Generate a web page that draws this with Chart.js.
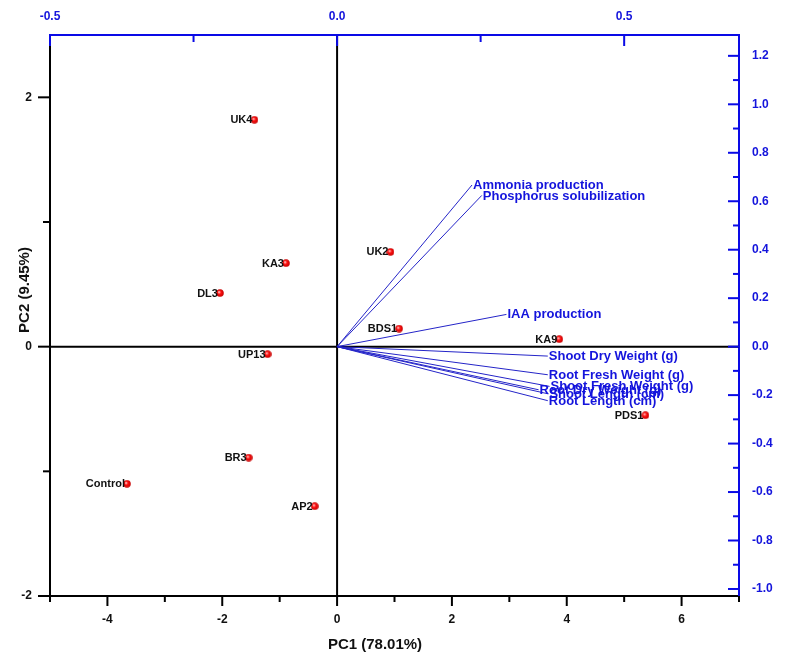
<!DOCTYPE html>
<html>
<head>
<meta charset="utf-8">
<script src="https://cdn.jsdelivr.net/npm/chart.js@4/dist/chart.umd.min.js"></script>
<style>
  body { margin: 0; background: #fff; }
  canvas { display: block; }
</style>
</head>
<body>
<canvas id="pca" width="789" height="665"></canvas>
<script>
// Scores (bottom / left axes)
const strains = ['UK4', 'KA3', 'DL3', 'UK2', 'BDS1', 'UP13', 'BR3', 'Control', 'AP2', 'KA9', 'PDS1']
const pc1 = [-1.44, -0.89, -2.04, 0.93, 1.08, -1.21, -1.54, -3.66, -0.39, 3.87, 5.37]
const pc2 = [1.82, 0.67, 0.43, 0.76, 0.145, -0.06, -0.89, -1.10, -1.28, 0.06, -0.55]

// Loadings (top / right axes)
const traits = ['Ammonia production', 'Phosphorus solubilization', 'IAA production',
  'Shoot Dry Weight (g)', 'Root Fresh Weight (g)', 'Shoot Fresh Weight (g)',
  'Root Dry Weight (g)', 'Shoot Length (cm)', 'Root Length (cm)']
const load1 = [0.235, 0.252, 0.295, 0.367, 0.367, 0.370, 0.351, 0.368, 0.367]
const load2 = [0.667, 0.624, 0.133, -0.039, -0.116, -0.164, -0.178, -0.195, -0.223]

// Tick labels
const xTicks = [-4, -2, 0, 2, 4, 6]
const xMinor = [-5, -3, -1, 1, 3, 5, 7]
const yTicks = [-2, 0, 2]
const yMinor = [-1, 1]
const x2Ticks = [-0.5, 0, 0.5]
const x2Minor = [-0.25, 0.25]
const y2Ticks = [-1.0, -0.8, -0.6, -0.4, -0.2, 0.0, 0.2, 0.4, 0.6, 0.8, 1.0, 1.2]
const y2Minor = [-0.9, -0.7, -0.5, -0.3, -0.1, 0.1, 0.3, 0.5, 0.7, 0.9, 1.1]

const BLUE = '#0a0ae6'
const BLUE_TXT = '#1414dc'
const FONT = "'Liberation Sans', Arial, sans-serif"
Chart.defaults.font.family = FONT

// red ball marker
const dot = document.createElement('canvas')
dot.width = 8; dot.height = 8
{
  const g = dot.getContext('2d')
  const grad = g.createRadialGradient(3, 3, 0.5, 4, 4, 4)
  grad.addColorStop(0, '#ffb0b0')
  grad.addColorStop(0.35, '#ff1010')
  grad.addColorStop(1, '#c00000')
  g.fillStyle = grad
  g.beginPath(); g.arc(4, 4, 3.8, 0, Math.PI * 2); g.fill()
}

const setTicks = vals => scale => { scale.ticks = vals.map(v => ({ value: v })) }

const datasets = [{
  label: 'scores',
  data: pc1.map((v, i) => ({ x: v, y: pc2[i] })),
  xAxisID: 'x', yAxisID: 'y',
  pointStyle: dot, pointRadius: 4,
  showLine: false
}]
traits.forEach((t, i) => {
  datasets.push({
    label: t,
    data: [{ x: 0, y: 0 }, { x: load1[i], y: load2[i] }],
    xAxisID: 'x2', yAxisID: 'y2',
    showLine: true, borderColor: '#2424c8', borderWidth: 1,
    pointRadius: 0
  })
})

function tickMark(ctx, x1, y1, x2, y2) {
  ctx.beginPath(); ctx.moveTo(x1, y1); ctx.lineTo(x2, y2); ctx.stroke()
}

const decor = {
  id: 'decor',
  beforeDatasetsDraw(chart) {
    const { ctx, chartArea: a, scales } = chart
    ctx.save()
    ctx.strokeStyle = '#000'
    ctx.lineWidth = 2
    const x0 = scales.x.getPixelForValue(0)
    const y0 = scales.y.getPixelForValue(0)
    tickMark(ctx, a.left, y0, a.right, y0)
    tickMark(ctx, x0, a.top, x0, a.bottom)
    ctx.restore()
  },
  afterDatasetsDraw(chart) {
    const { ctx, chartArea: a, scales } = chart
    ctx.save()
    // strain labels
    ctx.font = 'bold 11px ' + FONT
    ctx.fillStyle = '#111'
    ctx.textAlign = 'right'
    ctx.textBaseline = 'middle'
    chart.getDatasetMeta(0).data.forEach((p, i) => {
      ctx.fillText(strains[i], p.x - 2, p.y + 0.5)
    })
    // trait labels
    ctx.font = 'bold 13px ' + FONT
    ctx.fillStyle = BLUE_TXT
    ctx.textAlign = 'left'
    traits.forEach((t, i) => {
      const px = scales.x2.getPixelForValue(load1[i])
      const py = scales.y2.getPixelForValue(load2[i])
      ctx.fillText(t, px + 1, py + 0.5)
    })

    // tick marks
    ctx.lineWidth = 2
    ctx.strokeStyle = '#000'
    xTicks.forEach(v => { const p = scales.x.getPixelForValue(v); tickMark(ctx, p, a.bottom, p, a.bottom + 10) })
    xMinor.forEach(v => { const p = scales.x.getPixelForValue(v); tickMark(ctx, p, a.bottom, p, a.bottom + 6) })
    yTicks.forEach(v => { const p = scales.y.getPixelForValue(v); tickMark(ctx, a.left, p, a.left - 12, p) })
    yMinor.forEach(v => { const p = scales.y.getPixelForValue(v); tickMark(ctx, a.left, p, a.left - 7, p) })
    ctx.strokeStyle = BLUE
    x2Ticks.forEach(v => { const p = scales.x2.getPixelForValue(v); tickMark(ctx, p, a.top, p, a.top + 11) })
    x2Minor.forEach(v => { const p = scales.x2.getPixelForValue(v); tickMark(ctx, p, a.top, p, a.top + 7) })
    y2Ticks.forEach(v => { const p = scales.y2.getPixelForValue(v); tickMark(ctx, a.right, p, a.right - 11, p) })
    y2Minor.forEach(v => { const p = scales.y2.getPixelForValue(v); tickMark(ctx, a.right, p, a.right - 6, p) })

    // axis titles
    ctx.font = 'bold 15px ' + FONT
    ctx.fillStyle = '#111'
    ctx.textAlign = 'center'
    ctx.fillText('PC1 (78.01%)', 375, 645)
    ctx.translate(25, 290)
    ctx.rotate(-Math.PI / 2)
    ctx.fillText('PC2 (9.45%)', 0, 0)
    ctx.restore()
  }
}

const blackTicks = { color: '#111', font: { size: 12, weight: 'bold' }, autoSkip: false, maxRotation: 0 }
const blueTicks = { color: BLUE_TXT, font: { size: 12, weight: 'bold' }, autoSkip: false, maxRotation: 0 }
const noGrid = { display: false, drawTicks: false, tickLength: 0 }

new Chart(document.getElementById('pca'), {
  type: 'scatter',
  data: { datasets },
  options: {
    responsive: false,
    animation: false,
    layout: { padding: 0 },
    plugins: { legend: { display: false }, tooltip: { enabled: false } },
    scales: {
      x: {
        type: 'linear', position: 'bottom', min: -5, max: 7,
        grid: noGrid, border: { display: true, color: '#000', width: 2 },
        ticks: { ...blackTicks, padding: 16, callback: v => String(v) },
        afterBuildTicks: setTicks(xTicks),
        afterFit: s => { s.height = 69 }
      },
      y: {
        type: 'linear', position: 'left', min: -2, max: 2.5,
        grid: noGrid, border: { display: true, color: '#000', width: 2 },
        ticks: { ...blackTicks, padding: 18, callback: v => String(v) },
        afterBuildTicks: setTicks(yTicks),
        afterFit: s => { s.width = 50 }
      },
      x2: {
        type: 'linear', position: 'top', min: -0.5, max: 0.7,
        grid: noGrid, border: { display: true, color: BLUE, width: 2 },
        ticks: { ...blueTicks, padding: 11, callback: v => v.toFixed(1) },
        afterBuildTicks: setTicks(x2Ticks),
        afterFit: s => { s.height = 35 }
      },
      y2: {
        type: 'linear', position: 'right', min: -1.029, max: 1.286,
        grid: noGrid, border: { display: true, color: BLUE, width: 2 },
        ticks: { ...blueTicks, padding: 13, callback: v => v.toFixed(1) },
        afterBuildTicks: setTicks(y2Ticks),
        afterFit: s => { s.width = 50 }
      }
    }
  },
  plugins: [decor]
})
</script>
</body>
</html>
